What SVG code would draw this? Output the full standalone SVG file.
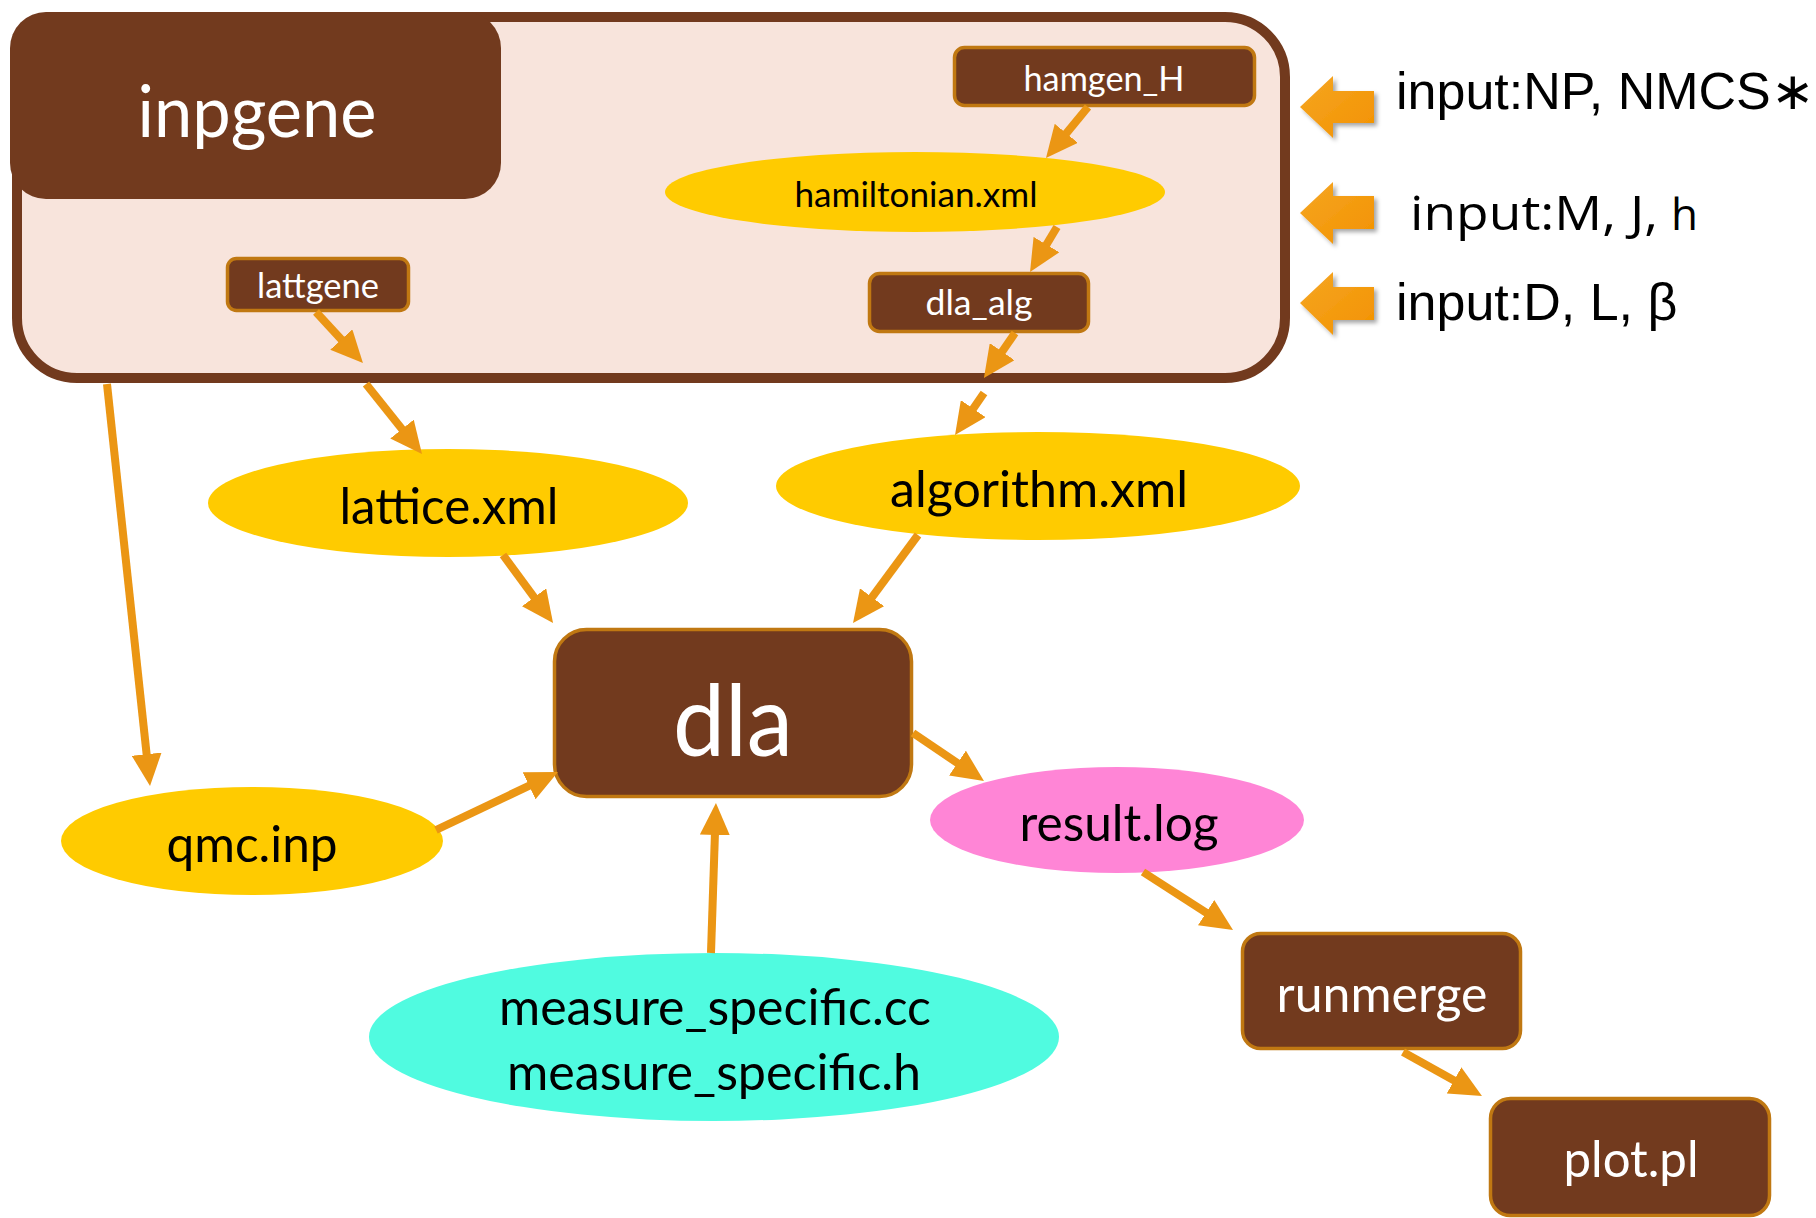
<svg xmlns="http://www.w3.org/2000/svg" width="1816" height="1218" viewBox="0 0 1816 1218">
  <defs>
    <style>
      .box { fill: #723A1E; stroke: #C07812; stroke-width: 3.5; }
      .lbl { font-family: Lato, "Open Sans", "DejaVu Sans", sans-serif; text-anchor: middle; }
      .w { fill: #ffffff; }
      .k { fill: #000000; }
      .edge { stroke: #EB9614; stroke-width: 8; fill: none; marker-end: url(#head); }
      .yel { fill: #FFCB00; }
      .in { fill: url(#blockGrad); filter: url(#shadow); }
      .arial { font-family: "Liberation Sans", Arial, sans-serif; font-size: 52px; fill: #000; }
    </style>
    <marker id="head" markerUnits="userSpaceOnUse" markerWidth="32" markerHeight="30" refX="12" refY="15" orient="auto">
      <path d="M0,0 L32,15 L0,30 z" fill="#EB9614"/>
    </marker>
    <linearGradient id="blockGrad" x1="0" y1="0" x2="1" y2="1">
      <stop offset="0" stop-color="#F5A623"/>
      <stop offset="1" stop-color="#F39200"/>
    </linearGradient>
    <filter id="shadow" x="-20%" y="-20%" width="150%" height="150%">
      <feDropShadow dx="3" dy="3" stdDeviation="2" flood-color="#000" flood-opacity="0.35"/>
    </filter>
  </defs>

  <rect width="1816" height="1218" fill="#ffffff"/>

  <!-- inpgene container with its sub-steps -->
  <g id="inpgene-frame">
    <rect x="17" y="17" width="1268" height="361" rx="60" fill="#F8E4DC" stroke="#723A1E" stroke-width="10"/>
  </g>
  <g id="inpgene">
    <rect x="10" y="12" width="491" height="187" rx="36" fill="#723A1E"/>
    <text class="lbl w" x="257" y="137" font-size="71" textLength="239" lengthAdjust="spacingAndGlyphs">inpgene</text>
  </g>
  <g id="hamgen_H">
    <rect class="box" x="954.5" y="47.5" width="300" height="58" rx="10"/>
    <text class="lbl w" x="1104" y="91" font-size="35" textLength="161" lengthAdjust="spacingAndGlyphs">hamgen_H</text>
  </g>
  <g id="hamiltonian">
    <ellipse class="yel" cx="915" cy="192" rx="250" ry="40"/>
    <text class="lbl k" x="916" y="207" font-size="35" textLength="243" lengthAdjust="spacingAndGlyphs">hamiltonian.xml</text>
  </g>
  <g id="dla_alg">
    <rect class="box" x="869.5" y="273.5" width="219" height="58" rx="10"/>
    <text class="lbl w" x="979" y="315" font-size="35" textLength="107" lengthAdjust="spacingAndGlyphs">dla_alg</text>
  </g>
  <g id="lattgene">
    <rect class="box" x="227.5" y="258.5" width="181" height="52" rx="9"/>
    <text class="lbl w" x="318" y="298" font-size="35" textLength="122" lengthAdjust="spacingAndGlyphs">lattgene</text>
  </g>

  <!-- generated files and programs -->
  <g id="lattice">
    <ellipse class="yel" cx="448" cy="503" rx="240" ry="54"/>
    <text class="lbl k" x="449" y="524" font-size="50" textLength="219" lengthAdjust="spacingAndGlyphs">lattice.xml</text>
  </g>
  <g id="algorithm">
    <ellipse class="yel" cx="1038" cy="486" rx="262" ry="54"/>
    <text class="lbl k" x="1039" y="507" font-size="50" textLength="298" lengthAdjust="spacingAndGlyphs">algorithm.xml</text>
  </g>
  <g id="dla">
    <rect class="box" x="554.5" y="629.5" width="357" height="167" rx="32"/>
    <text class="lbl w" x="733" y="756" font-size="98" textLength="120" lengthAdjust="spacingAndGlyphs">dla</text>
  </g>
  <g id="qmc">
    <ellipse class="yel" cx="252" cy="841" rx="191" ry="54"/>
    <text class="lbl k" x="252" y="862" font-size="50" textLength="171" lengthAdjust="spacingAndGlyphs">qmc.inp</text>
  </g>
  <g id="result">
    <ellipse cx="1117" cy="820" rx="187" ry="53" fill="#FF85D6"/>
    <text class="lbl k" x="1119" y="841" font-size="50" textLength="199" lengthAdjust="spacingAndGlyphs">result.log</text>
  </g>
  <g id="measure">
    <ellipse cx="714" cy="1037" rx="345" ry="84" fill="#50FBE0"/>
    <text class="lbl k" x="715" y="1025" font-size="50" textLength="432" lengthAdjust="spacingAndGlyphs">measure_specific.cc</text>
    <text class="lbl k" x="714" y="1090" font-size="50" textLength="414" lengthAdjust="spacingAndGlyphs">measure_specific.h</text>
  </g>
  <g id="runmerge">
    <rect class="box" x="1242.5" y="933.5" width="278" height="115" rx="18"/>
    <text class="lbl w" x="1382" y="1012" font-size="50" textLength="211" lengthAdjust="spacingAndGlyphs">runmerge</text>
  </g>
  <g id="plot">
    <rect class="box" x="1490.5" y="1098.5" width="279" height="117" rx="20"/>
    <text class="lbl w" x="1631" y="1177" font-size="50" textLength="135" lengthAdjust="spacingAndGlyphs">plot.pl</text>
  </g>

  <!-- connectors -->
  <g id="connectors">
    <line class="edge" x1="1088" y1="107" x2="1058.7" y2="142.6"/>
    <line class="edge" x1="1057" y1="227" x2="1040.3" y2="254.9"/>
    <line class="edge" x1="1015" y1="333" x2="995.3" y2="361.5"/>
    <line class="edge" x1="984" y1="393" x2="966.4" y2="418.5"/>
    <line class="edge" x1="316" y1="312" x2="349.4" y2="348.3"/>
    <line class="edge" x1="366" y1="384" x2="409.5" y2="438.4"/>
    <line class="edge" x1="107" y1="384" x2="147.9" y2="766.1"/>
    <line class="edge" x1="503" y1="555" x2="541.2" y2="606.9"/>
    <line class="edge" x1="918" y1="535" x2="864.9" y2="606.9"/>
    <line class="edge" x1="436" y1="830" x2="539.9" y2="780.6"/>
    <line class="edge" x1="711" y1="953" x2="715.3" y2="823"/>
    <line class="edge" x1="913" y1="733" x2="967.4" y2="769.8"/>
    <line class="edge" x1="1143" y1="872" x2="1216.2" y2="919.2"/>
    <line class="edge" x1="1403" y1="1052" x2="1464.5" y2="1086.3"/>
  </g>

  <!-- input parameter callouts -->
  <g id="inputs">
    <polygon class="in" points="1300,107 1333,76 1333,91 1374,91 1374,123 1333,123 1333,138"/>
    <polygon class="in" points="1300,213 1333,182 1333,196 1374,196 1374,229 1333,229 1333,244"/>
    <polygon class="in" points="1300,303 1333,272 1333,287 1374,287 1374,320 1333,320 1333,335"/>
    <text class="arial" x="1396" y="109">input:NP, NMCS∗</text>
    <text x="1410" y="230" font-family="'Open Sans', 'DejaVu Sans', sans-serif" font-size="48" fill="#000" textLength="248" lengthAdjust="spacingAndGlyphs">input:M, J,</text>
    <text x="1671" y="230" font-family="'Open Sans', 'DejaVu Sans', sans-serif" font-size="44" fill="#000">h</text>
    <text class="arial" x="1396" y="320">input:D, L, β</text>
  </g>
</svg>
